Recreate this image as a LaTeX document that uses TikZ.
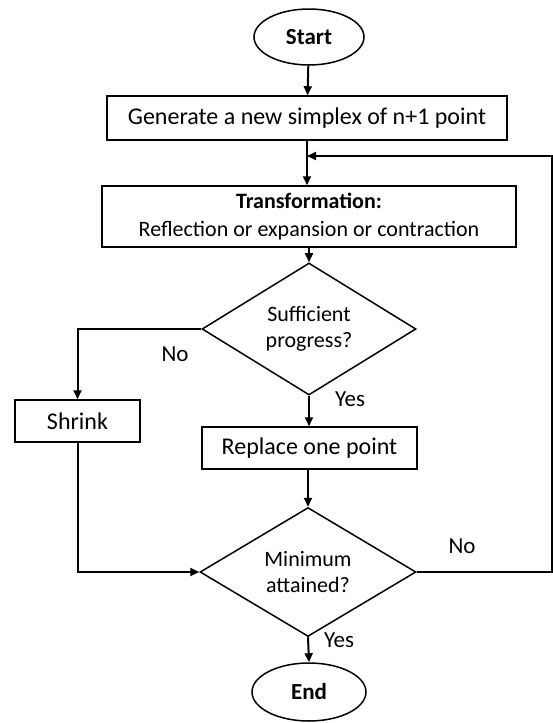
\documentclass[tikz,border=0pt]{standalone}
\usepackage{fontspec}
\setmainfont{Carlito}
\usetikzlibrary{shapes.geometric,arrows.meta}
\begin{document}
\begin{tikzpicture}[x=1pt,y=-1pt,
  box/.style={draw,line width=1.5pt,rectangle,inner sep=0pt,align=center},
  term/.style={draw,line width=1.5pt,ellipse,inner sep=0pt,font=\fontsize{23}{27}\selectfont\bfseries},
  decide/.style={draw,line width=1.5pt,diamond,inner sep=0pt,align=center,font=\fontsize{22}{26.5}\selectfont},
  conn/.style={line width=2pt,-{Triangle[length=9pt,width=8pt]}},
  lbl/.style={font=\fontsize{23}{27}\selectfont}]
\useasboundingbox (0,0) rectangle (553,723);
\node[term,minimum width=110pt,minimum height=56pt] (start) at (309,37) {Start};
\node[box,minimum width=400pt,minimum height=44pt,font=\fontsize{24}{28}\selectfont] (gen) at (307,118) {Generate a new simplex of n+1 point};
\node[box,minimum width=414pt,minimum height=61pt,font=\fontsize{22}{28}\selectfont] (trans) at (309,216.5) {\textbf{Transformation:}\\Reflection or expansion or contraction};
\node[decide,minimum width=214pt,minimum height=108pt] (suff) at (309,329) {Sufficient\\progress?};
\node[box,minimum width=125pt,minimum height=42pt,font=\fontsize{24}{28}\selectfont] (shrink) at (77.5,421) {Shrink};
\node[box,minimum width=215pt,minimum height=42pt,font=\fontsize{24}{28}\selectfont] (replace) at (309.5,448) {Replace one point};
\node[decide,minimum width=216pt,minimum height=108pt] (minim) at (308,572) {Minimum\\attained?};
\node[term,minimum width=114pt,minimum height=58pt] (end) at (309,692) {End};
\coordinate (fbc) at (552,156);
\coordinate (fb) at (gen.south |- fbc);
\draw[conn] (start) -- (gen);
\draw[conn] (gen.south) -- (gen.south |- trans.north);
\draw[conn] (minim.east) -| (fbc) -- (fb);
\draw[conn] (trans.south -| suff.north) -- (suff.north);
\draw[conn] (suff.west) -| (shrink.north);
\draw[conn] (suff.south) -- (suff.south |- replace.north);
\draw[conn] (replace.south -| minim.north) -- (minim.north);
\draw[conn] (shrink.south) |- (minim.west);
\draw[conn] (minim.south) -- (end.north);
\node[lbl] (l1) at (175,354) {No};
\node[lbl] (l2) at (350,399) {Yes};
\node[lbl] (l3) at (462,546) {No};
\node[lbl] (l4) at (339,640) {Yes};
\end{tikzpicture}
\end{document}
